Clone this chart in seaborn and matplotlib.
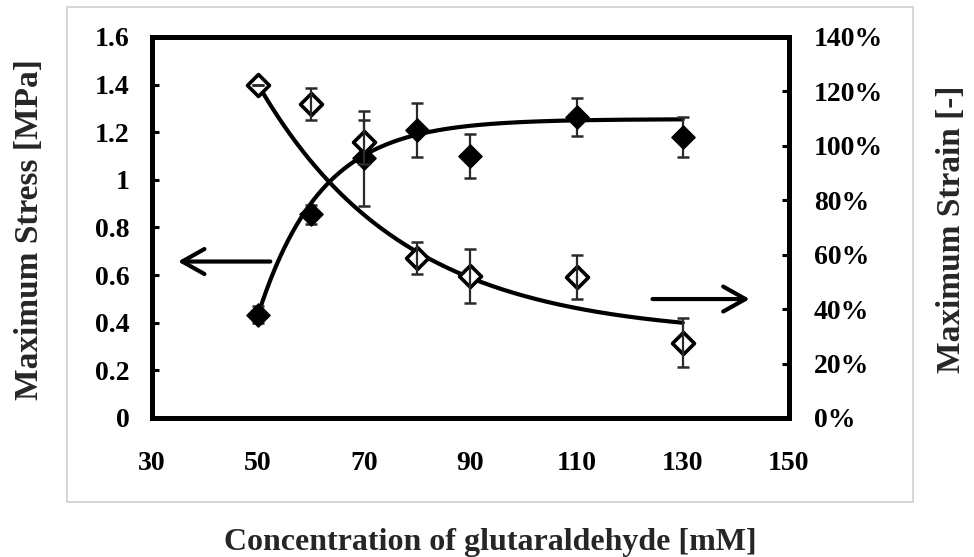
import numpy as np
import matplotlib
matplotlib.use("Agg")
import matplotlib.pyplot as plt
from matplotlib.patches import Rectangle
from matplotlib.ticker import FuncFormatter
import seaborn as sns

# ---------------- data ----------------
conc = [50, 60, 70, 80, 90, 110, 130]
stress = [0.434, 0.855, 1.09, 1.21, 1.10, 1.264, 1.18]          # MPa
stress_err = [0.035, 0.04, 0.20, 0.113, 0.093, 0.078, 0.084]
strain = [122.5, 115.4, 101.4, 58.8, 52.2, 51.8, 27.6]           # %
strain_err = [0.0, 6.0, 8.0, 6.0, 10.0, 8.0, 9.0]

x_ticks = [30, 50, 70, 90, 110, 130, 150]
y_ticks = [0, 0.2, 0.4, 0.6, 0.8, 1.0, 1.2, 1.4, 1.6]
y_tick_labels = ["0", "0.2", "0.4", "0.6", "0.8", "1", "1.2", "1.4", "1.6"]
y2_ticks = [0, 20, 40, 60, 80, 100, 120, 140]

# trend-line model parameters (saturating / decaying exponentials)
fit_start, fit_end = 50, 130
stress_fit = dict(A=1.255, B=0.821, k=0.0846)
strain_fit = dict(C=30.0, D=92.5, m=0.0365)

# ---------------- style ----------------
sns.set_style("white")
plt.rcParams["font.family"] = ["Liberation Serif", "DejaVu Serif"]
plt.rcParams["font.weight"] = "bold"

fig = plt.figure(figsize=(9.74, 5.57), dpi=100)
ax = fig.add_axes([0.156, 0.2496, 0.654, 0.684])
ax2 = ax.twinx()

# outer light-grey frame
fig.patches.append(Rectangle((0.0688, 0.0987), 0.8686, 0.8887, transform=fig.transFigure,
                             fill=False, ec="#cfcfcf", lw=1.2, zorder=0))

# trend lines
xf = np.linspace(fit_start, fit_end, 200)
yf_stress = stress_fit["A"] - stress_fit["B"] * np.exp(-stress_fit["k"] * (xf - fit_start))
yf_strain = strain_fit["C"] + strain_fit["D"] * np.exp(-strain_fit["m"] * (xf - fit_start))
sns.lineplot(x=xf, y=yf_stress, ax=ax, color="black", lw=3.0, zorder=2)
sns.lineplot(x=xf, y=yf_strain, ax=ax2, color="black", lw=3.0, zorder=2)

# error bars
ax.errorbar(conc, stress, yerr=stress_err, fmt="none", ecolor="#2a2a2a", elinewidth=1.6,
            capsize=4, capthick=1.8, zorder=3)
ax2.errorbar(conc, strain, yerr=strain_err, fmt="none", ecolor="#2a2a2a", elinewidth=1.6,
             capsize=4, capthick=1.8, zorder=4)

# markers
sns.scatterplot(x=conc, y=stress, ax=ax, marker="D", s=140, color="black",
                edgecolor="black", linewidth=1, zorder=4)
sns.scatterplot(x=conc, y=strain, ax=ax2, marker="D", s=125, facecolor="white",
                edgecolor="black", linewidth=2.6, zorder=3)
ax2.errorbar(conc, strain, yerr=[[0] * len(conc), [0] * len(conc)], fmt="none",
             ecolor="#2a2a2a", elinewidth=1.6, zorder=5)

# arrows
ax.annotate("", xy=(34.9, 0.657), xytext=(52.3, 0.657),
            arrowprops=dict(arrowstyle="->,head_length=0.8,head_width=0.45",
                            lw=3, color="black", mutation_scale=20,
                            shrinkA=0, shrinkB=0))
ax2.annotate("", xy=(142.6, 43.7), xytext=(124.3, 43.7),
             arrowprops=dict(arrowstyle="->,head_length=0.8,head_width=0.45",
                             lw=3, color="black", mutation_scale=20,
                             shrinkA=0, shrinkB=0))

# axes limits & ticks
ax.set_xlim(30, 150)
ax.set_ylim(0, 1.6)
ax2.set_ylim(0, 140)
ax.set_xticks(x_ticks)
ax.set_yticks(y_ticks)
ax.set_yticklabels(y_tick_labels)
ax2.set_yticks(y2_ticks)
ax2.yaxis.set_major_formatter(FuncFormatter(lambda v, p: f"{int(v)}%"))
ax.set_xlabel("")
ax.set_ylabel("")
ax2.set_ylabel("")

for a in (ax, ax2):
    for s in a.spines.values():
        s.set_linewidth(3.6)
        s.set_color("black")
        s.set_visible(True)
ax.tick_params(axis="both", direction="in", length=5, width=2.2, labelsize=20, colors="black")
ax.tick_params(axis="y", pad=16)
ax.tick_params(axis="x", pad=24)
ax2.tick_params(axis="y", direction="in", length=5, width=2.2, labelsize=20, pad=18, colors="black")
for lab in ax.get_xticklabels() + ax.get_yticklabels() + ax2.get_yticklabels():
    lab.set_fontweight("bold")

# axis titles
fig.text(0.503, 0.0126, "Concentration of glutaraldehyde [mM]", ha="center", va="baseline",
         fontsize=23, fontweight="bold")
fig.text(0.030, 0.588, "Maximum Stress [MPa]", rotation=90, ha="center", va="center",
         fontsize=24, fontweight="bold")
fig.text(0.977, 0.588, "Maximum Strain [-]", rotation=90, ha="center", va="center",
         fontsize=24, fontweight="bold")

fig.savefig("out.png", dpi=100)
